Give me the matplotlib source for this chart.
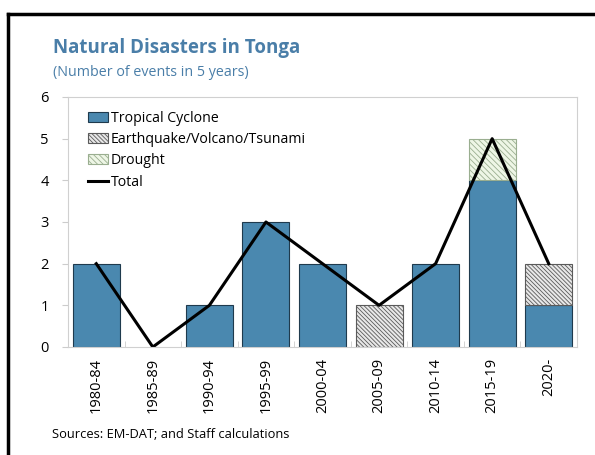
import matplotlib.pyplot as plt
import numpy as np

plt.rcParams['font.family'] = ['Open Sans', 'DejaVu Sans']
plt.rcParams['hatch.linewidth'] = 0.6

periods = ["1980-84", "1985-89", "1990-94", "1995-99", "2000-04",
           "2005-09", "2010-14", "2015-19", "2020-"]
cyclone = [2, 0, 1, 3, 2, 0, 2, 4, 1]
quake = [0, 0, 0, 0, 0, 1, 0, 0, 1]
drought = [0, 0, 0, 0, 0, 0, 0, 1, 0]
total = [2, 0, 1, 3, 2, 1, 2, 5, 2]

fig = plt.figure(figsize=(5.95, 4.55), dpi=100)
ax = fig.add_axes([68 / 595, 1 - 347 / 455, 509 / 595, 250 / 455])

x = np.arange(len(periods))
w = 0.83
cyc = np.array(cyclone, dtype=float)
qk = np.array(quake, dtype=float)
dr = np.array(drought, dtype=float)

# only draw non-zero segments so empty bars leave no edge lines
m = cyc > 0
h1 = ax.bar(x[m], cyc[m], w, color="#4A88AF", edgecolor="#1f3a4d",
            linewidth=0.8, label="Tropical Cyclone")
m = qk > 0
h2 = ax.bar(x[m], qk[m], w, bottom=cyc[m], color="#e8e8e8", edgecolor="#5a5a5a",
            hatch="\\\\\\\\\\\\\\\\", linewidth=0.8, label="Earthquake/Volcano/Tsunami")
m = dr > 0
h3 = ax.bar(x[m], dr[m], w, bottom=(cyc + qk)[m], color="#eef6e6",
            edgecolor="#9aae90", hatch="\\\\\\\\\\\\", linewidth=0.8,
            label="Drought")
h4, = ax.plot(x, total, color="black", linewidth=2.2, label="Total")

ax.set_xlim(-0.5, len(periods) - 0.5)
ax.set_ylim(0, 6)
ax.set_yticks(range(7))
ax.set_xticks(x)
ax.set_xticklabels(periods, rotation=90, fontsize=10.5)
ax.set_xticks(np.arange(0.5, len(periods) - 0.5), minor=True)
ax.tick_params(axis="x", which="major", length=0, pad=8)
ax.tick_params(axis="x", which="minor", length=4, direction="in", color="#cccccc")
ax.tick_params(axis="y", length=4, color="#cccccc", labelsize=10.5, pad=10)
for s in ax.spines.values():
    s.set_color("#d0d0d0")

ax.legend(handles=[h1, h2, h3, h4], loc="upper left", bbox_to_anchor=(0.02, 0.985),
          frameon=False, fontsize=10.2, handlelength=1.4, handletextpad=0.2,
          labelspacing=0.45, borderaxespad=0.3)

fig.text(53 / 595, 1 - 48 / 455, "Natural Disasters in Tonga", fontsize=13.5,
         fontweight="bold", color="#4A7EA8", va="center")
fig.text(53 / 595, 1 - 72 / 455, "(Number of events in 5 years)", fontsize=10.3,
         color="#4A7EA8", va="center")
fig.text(52 / 595, 1 - 435 / 455, "Sources: EM-DAT; and Staff calculations",
         fontsize=9.3, va="center")

# partial frame around the chart
fig.add_artist(plt.Line2D([8 / 595, 8 / 595], [0, 1 - 14 / 455],
                          transform=fig.transFigure, color="black", linewidth=2.5))
fig.add_artist(plt.Line2D([8 / 595, 1], [1 - 14 / 455, 1 - 14 / 455],
                          transform=fig.transFigure, color="black", linewidth=2.5))

fig.savefig("out.png", dpi=100)
